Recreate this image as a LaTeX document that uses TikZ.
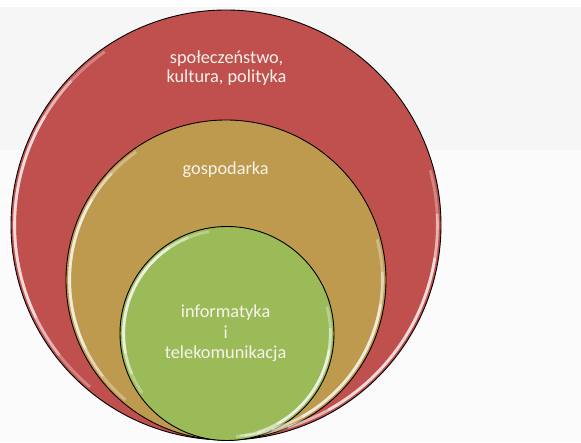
\documentclass[tikz,border=0pt]{standalone}
\usepackage{fontspec}
\setmainfont{Carlito}
\definecolor{cred}{HTML}{C0504D}
\definecolor{cgold}{HTML}{BE9A4F}
\definecolor{cgreen}{HTML}{9BBB59}
\definecolor{bgwhite}{HTML}{FBFBFB}
\definecolor{bggray}{HTML}{F6F6F6}
\definecolor{txt}{HTML}{F7F3EA}
% highlight band: node, outer radius, inner radius, start angle, end angle, opacity
\newcommand\hlarc[6]{%
  \fill[white, opacity=#6] ([shift={(#4:#2)}]#1.center)
    arc[start angle=#4,end angle=#5,radius=#2]
    -- ([shift={(#5:#3)}]#1.center)
    arc[start angle=#5,end angle=#4,radius=#3] -- cycle;}
\newcommand\hlset[7]{% node, ra, rb, left a, left b, right a, right b
  \hlarc{#1}{#2}{#3}{#4}{#5}{0.3}
  \hlarc{#1}{#2}{#3}{\the\numexpr#4+12\relax}{\the\numexpr#5-12\relax}{0.4}
  \hlarc{#1}{#2}{#3}{\the\numexpr#4+24\relax}{\the\numexpr#5-24\relax}{0.5}
  \hlarc{#1}{#2}{#3}{#6}{#7}{0.3}
  \hlarc{#1}{#2}{#3}{\the\numexpr#6+12\relax}{\the\numexpr#7-12\relax}{0.4}
  \hlarc{#1}{#2}{#3}{\the\numexpr#6+24\relax}{\the\numexpr#7-24\relax}{0.5}}
\begin{document}
\begin{tikzpicture}[x=1pt,y=1pt,
  ring/.style={circle, draw=black, line width=0.9pt, inner sep=0pt, outer sep=0pt},
  lbl/.style={text=txt, anchor=base, inner sep=0pt, font=\fontsize{18.3}{20}\selectfont}]
\useasboundingbox (0,0) rectangle (581,442);
\fill[white] (0,0) rectangle (581,442);
\fill[bgwhite] (0,0) rectangle (581,435);
\fill[bggray] (0,292) rectangle (581,435);
% circles
\node[ring, fill=cred, minimum size=430pt] (outer) at (226,217) {};
\node[ring, fill=cgold, minimum size=320pt] (middle) at (226,162) {};
\node[ring, fill=cgreen, minimum size=214pt] (inner) at (227,108.5) {};
% gloss highlights
\hlset{outer}{212.8}{210.0}{125}{230}{-85}{15}
\hlset{middle}{157.8}{155.0}{125}{230}{-85}{15}
\hlset{inner}{104.8}{102.0}{100}{215}{-85}{15}
% labels
\node[lbl] (t1a) at (226.5,378.7) {społeczeństwo,};
\node[lbl] (t1b) at (226.5,359.3) {kultura, polityka};
\node[lbl] (t2) at (225.7,267) {gospodarka};
\node[lbl] (t3a) at (225.6,124) {informatyka};
\node[lbl] (t3b) at (225.6,103) {i};
\node[lbl] (t3c) at (225.6,84) {telekomunikacja};
\end{tikzpicture}
\end{document}
